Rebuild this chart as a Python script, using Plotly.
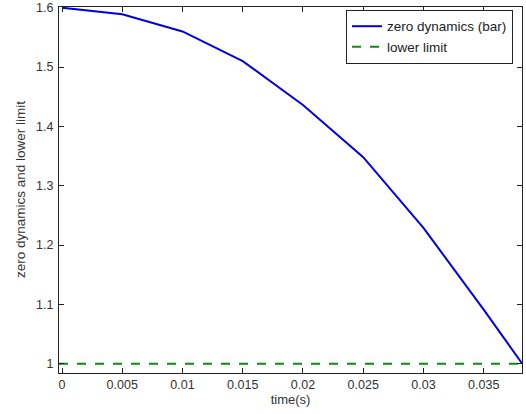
import plotly.graph_objects as go

time_s = [0.0, 0.005, 0.01, 0.015, 0.02, 0.025, 0.03, 0.035, 0.0382]
zero_dyn = [1.600, 1.589, 1.560, 1.510, 1.436, 1.348, 1.229, 1.091, 1.000]
limit_t = [-0.00025, 0.03818]
limit_v = [1.0, 1.0]
xticks = [0, 0.005, 0.01, 0.015, 0.02, 0.025, 0.03, 0.035]
xtick_text = ["0", "0.005", "0.01", "0.015", "0.02", "0.025", "0.03", "0.035"]
yticks = [1, 1.1, 1.2, 1.3, 1.4, 1.5, 1.6]
ytick_text = ["1", "1.1", "1.2", "1.3", "1.4", "1.5", "1.6"]
y_title = "zero dynamics and lower limit"

font = "Liberation Sans, Arial, sans-serif"

fig = go.Figure()
fig.add_trace(go.Scatter(x=time_s, y=zero_dyn, mode="lines", name="zero dynamics (bar)",
                         line=dict(color="#0000e0", width=2)))
fig.add_trace(go.Scatter(x=limit_t, y=limit_v, mode="lines", name="lower limit",
                         line=dict(color="#128a12", width=2, dash="dash")))

axis_common = dict(showline=True, linecolor="#222", linewidth=1, mirror="ticks",
                   ticks="inside", ticklen=5, tickcolor="#222", showgrid=False,
                   zeroline=False, tickfont=dict(family=font, size=12.5, color="#333"))

fig.update_layout(
    width=526, height=414,
    margin=dict(l=59, r=4, t=7, b=41, autoexpand=False),
    paper_bgcolor="white", plot_bgcolor="white",
    font=dict(family=font, size=12, color="#222"),
    xaxis=dict(range=[-0.00025, 0.03818], tickvals=xticks, ticktext=xtick_text,
               title=dict(text="time(s)", standoff=3, font=dict(size=13, color="#333")),
               **axis_common),
    yaxis=dict(range=[0.9843, 1.6012], tickvals=yticks, ticktext=ytick_text,
               ticklabelstandoff=2, **axis_common),
    legend=dict(x=0.9806, y=0.992, xanchor="right", yanchor="top",
                bgcolor="white", bordercolor="#222", borderwidth=1,
                font=dict(family=font, size=13.5, color="#222"),
                itemwidth=30, tracegroupgap=0),
    showlegend=True,
    annotations=[dict(text=y_title, xref="paper", yref="paper", x=-0.0842, y=0.5,
                      xanchor="center", yanchor="middle", textangle=-90, showarrow=False,
                      font=dict(family=font, size=13.5, color="#333"))],
)

fig.write_html("out.html", config={"displayModeBar": False},
               post_script="document.body.style.margin='0';document.body.style.overflow='hidden';")
